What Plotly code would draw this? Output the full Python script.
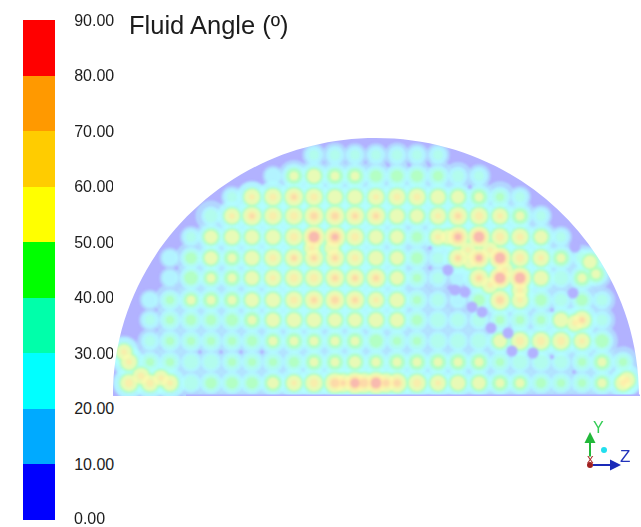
import numpy as np
import plotly.graph_objects as go

W, H = 641, 527

# ---------- data ----------
bar_levels = [5, 15, 25, 35, 45, 55, 65, 75, 85]
bar_ticks = [10, 20, 30, 40, 50, 60, 70, 80, 90]

col_z = [-247, -226, -206, -185, -165, -144, -124, -103, -82, -62, -41, -21, 0,
         21, 41, 62, 82, 103, 124, 144, 165, 185, 206, 226, 247]
row_y = [241, 220, 199, 180, 159, 138, 118, 96, 76, 55, 34, 13]

row_a = [0, 0, 0, 0, 0, 0, 0, 0, 0, 31, 32, 31, 31, 32, 31, 31, 0, 0, 0, 0, 0, 0, 0, 0, 0]
row_b = [0, 0, 0, 0, 0, 0, 0, 28, 52, 56, 52, 52, 46, 46, 46, 44, 34, 31, 0, 0, 0, 0, 0, 0, 0]
row_c = [0, 0, 0, 0, 0, 30, 62, 65, 72, 66, 58, 58, 62, 65, 65, 58, 55, 52, 42, 30, 0, 0, 0, 0, 0]
row_d = [0, 0, 0, 0, 36, 60, 72, 68, 68, 75, 75, 72, 72, 58, 55, 62, 72, 68, 60, 52, 30, 0, 0, 0, 0]
row_e = [0, 0, 0, 30, 55, 58, 56, 58, 68, 85, 82, 68, 56, 55, 44, 60, 82, 85, 68, 65, 55, 30, 0, 0, 0]
row_f = [0, 0, 28, 45, 55, 52, 58, 65, 70, 72, 72, 65, 58, 55, 45, 33, 70, 80, 85, 68, 62, 52, 33, 0, 0]
row_g = [0, 0, 28, 48, 50, 52, 56, 62, 68, 68, 72, 70, 72, 55, 42, 33, 28, 72, 85, 85, 58, 38, 52, 0, 0]
row_h = [0, 28, 42, 50, 52, 52, 56, 58, 66, 72, 75, 72, 60, 58, 42, 35, 28, 45, 75, 62, 45, 35, 45, 33, 0]
row_i = [0, 30, 42, 44, 44, 46, 52, 56, 58, 58, 55, 55, 58, 56, 44, 38, 36, 36, 40, 42, 42, 58, 70, 33, 0]
row_j = [0, 32, 42, 42, 42, 40, 44, 50, 52, 50, 50, 52, 48, 42, 42, 38, 38, 38, 55, 68, 68, 68, 60, 48, 0]
row_k = [62, 42, 42, 38, 38, 40, 42, 42, 44, 52, 52, 54, 50, 52, 52, 52, 52, 52, 42, 38, 38, 36, 40, 52, 42]
row_l = [68, 66, 62, 38, 45, 46, 46, 54, 60, 68, 78, 84, 85, 75, 68, 60, 58, 55, 52, 50, 44, 42, 42, 50, 60]
rows = [row_a, row_b, row_c, row_d, row_e, row_f, row_g, row_h, row_i, row_j, row_k, row_l]

# spots off the regular lattice
extra_z = [214, 220, -252, -235, -215, 199, 251,
           72, 92, 114, 129, 114, 144, 94, -64, -44, -33, -12, 10]
extra_y = [134, 122, 44, 20, 18, 73, 16,
           159, 146, 146, 126, 111, 106, 134, 148, 148, 13, 13, 13]
extra_v = [55, 52, 60, 65, 60, 62, 62,
           58, 60, 62, 62, 62, 60, 55, 60, 58, 72, 78, 75]

# low-angle pockets: wide ones and specks
pocket_z = [72, 79, 89, 96, 106, 115, 132, 136, 157, 197, 199]
pocket_y = [126, 106, 104, 89, 84, 68, 63, 45, 43, 103, 149]
speck_z = [176, 176, 198, 54, 54, 12, 33, 53, 94, -176, -155, -135, -114]
speck_y = [86, 39, 24, 128, 148, 231, 231, 231, 209, 44, 44, 44, 44]

# ---------- styles ----------
bar_colors = ["#0000ff", "#00aaff", "#00ffff", "#00ffaa", "#00ff00",
              "#ffff00", "#ffcc00", "#ff9900", "#ff0000"]
band_colors = ["#b2b2ff", "#b2e6ff", "#b2ffff", "#b2ffe6", "#b2ffb2",
               "#fffab0", "#ffeaa8", "#fcd2a8", "#f6acb2"]
band_radius = {
    10: ([28, 30, 36, 85], [10.5, 11, 15.5, 17]),
    20: ([21, 28, 31, 38, 45, 55, 62, 85], [6, 8, 9, 10, 11, 13, 15, 16]),
    30: ([31, 38, 45, 55, 85], [5, 7, 8.5, 10, 12.5]),
    40: ([42, 45, 55, 65, 85], [4, 5.5, 8.5, 9.5, 11.5]),
    50: ([52, 55, 60, 70, 85], [4.5, 6.5, 7.5, 8.5, 10.5]),
    60: ([62, 70, 85], [3, 4.5, 8]),
    70: ([72, 85], [2.5, 6]),
    80: ([82, 85], [3, 5]),
}

spot_z, spot_y, spot_v = list(extra_z), list(extra_y), list(extra_v)
for yy, row in zip(row_y, rows):
    for zz, vv in zip(col_z, row):
        if vv > 0:
            spot_z.append(zz)
            spot_y.append(yy)
            spot_v.append(vv)
spot_z, spot_y, spot_v = np.array(spot_z), np.array(spot_y), np.array(spot_v)

fig = go.Figure()

for i, level in enumerate(sorted(band_radius)):
    keep = spot_v >= level
    px_in, r_out = band_radius[level]
    fig.add_trace(go.Scatter(
        x=spot_z[keep], y=spot_y[keep], mode="markers", hoverinfo="skip",
        marker=dict(size=2 * np.interp(spot_v[keep], px_in, r_out),
                    color=band_colors[i + 1], line=dict(width=0)),
        xaxis="x", yaxis="y", showlegend=False))

fig.add_trace(go.Scatter(
    x=pocket_z, y=pocket_y, mode="markers", hoverinfo="skip",
    marker=dict(size=11, color=band_colors[0], line=dict(width=0)),
    xaxis="x", yaxis="y", showlegend=False))
fig.add_trace(go.Scatter(
    x=speck_z, y=speck_y, mode="markers", hoverinfo="skip",
    marker=dict(size=4, color=band_colors[0], line=dict(width=0)),
    xaxis="x", yaxis="y", showlegend=False))

steps = []
for i, c in enumerate(bar_colors):
    steps += [[i / 9, c], [(i + 1) / 9, c]]
fig.add_trace(go.Heatmap(
    z=[[v] for v in bar_levels], y=bar_levels, x=[0], zmin=0, zmax=90,
    colorscale=steps, showscale=False, hoverinfo="skip", xaxis="x2", yaxis="y2"))

RX, RY, K = 263, 258, 0.5523
left_mask = (f"M -270,0 L {-RX},0 C {-RX},{K*RY} {-K*RX},{RY} 0,{RY} L 0,270 L -270,270 Z")
right_mask = (f"M 270,0 L {RX},0 C {RX},{K*RY} {K*RX},{RY} 0,{RY} L 0,270 L 270,270 Z")
shapes = [
    dict(type="path", path=left_mask, xref="x", yref="y", fillcolor="white", line_width=0, layer="above"),
    dict(type="path", path=right_mask, xref="x", yref="y", fillcolor="white", line_width=0, layer="above"),
    dict(type="rect", x0=-190, x1=264, y0=0, y1=1.5, xref="x", yref="y",
         fillcolor=band_colors[0], line_width=0, layer="above"),
    dict(type="circle", xref="paper", yref="paper", x0=601 / W, x1=607 / W,
         y0=1 - 453 / H, y1=1 - 447 / H, fillcolor="#22dfee", line_width=0),
    dict(type="circle", xref="paper", yref="paper", x0=587 / W, x1=593 / W,
         y0=1 - 468 / H, y1=1 - 462 / H, fillcolor="#a02020", line_width=0),
]


def label(text, px, py, size, color, xanchor="left"):
    return dict(text=text, xref="paper", yref="paper", x=px / W, y=1 - py / H,
                xanchor=xanchor, yanchor="middle", showarrow=False,
                font=dict(family="Liberation Sans", size=size, color=color))


def arrow(px, py, ax, ay, color):
    return dict(text=" ", xref="paper", yref="paper", x=px / W, y=1 - py / H, ax=ax, ay=ay,
                showarrow=True, arrowhead=2, arrowsize=1.1, arrowwidth=2, arrowcolor=color)


annotations = [
    label("Fluid Angle (º)", 127, 25, 25.5, "#1c1c1c"),
    label("0.00", 72, 518, 16, "#1c1c1c"),
    label("Y", 591, 427, 16, "#33cc55"),
    label("Z", 618, 456, 17, "#2233bb"),
    label("x", 590, 458, 13, "#b03030", "center"),
    arrow(590, 432, 0, 33, "#22b83a"),
    arrow(621, 465, -31, 0, "#1a2ab8"),
]

fig.update_layout(
    width=W, height=H, autosize=False,
    margin=dict(l=0, r=0, t=0, b=0, autoexpand=False),
    paper_bgcolor="white", plot_bgcolor=band_colors[0],
    showlegend=False, shapes=shapes, annotations=annotations,
    font=dict(family="Liberation Sans", color="#1c1c1c"),
    xaxis=dict(domain=[113 / W, 640 / W], range=[-263, 264], visible=False, fixedrange=True, automargin=False),
    yaxis=dict(domain=[1 - 396 / H, 1 - 138 / H], range=[0, 258], visible=False, fixedrange=True, automargin=False),
    xaxis2=dict(domain=[23 / W, 55 / W], visible=False, fixedrange=True, anchor="y2", automargin=False),
    yaxis2=dict(domain=[1 - 520 / H, 1 - 20 / H], range=[0, 90], anchor="x2", side="right",
                tickmode="array", tickvals=bar_ticks, tickformat=".2f", automargin=False,
                ticks="outside", ticklen=15, tickcolor="rgba(0,0,0,0)",
                tickfont=dict(family="Liberation Sans", size=16, color="#1c1c1c"),
                showgrid=False, zeroline=False, showline=False, fixedrange=True),
)

fig.write_html(
    "out.html",
    config={"displayModeBar": False},
    post_script="var d=document.getElementById('{plot_id}');d.style.position='fixed';"
                "d.style.left='0';d.style.top='0';document.body.style.margin='0';"
                "d.querySelectorAll('.subplot.xy .scatterlayer').forEach(function(g){"
                "g.style.filter='blur(1.2px)';});",
)
